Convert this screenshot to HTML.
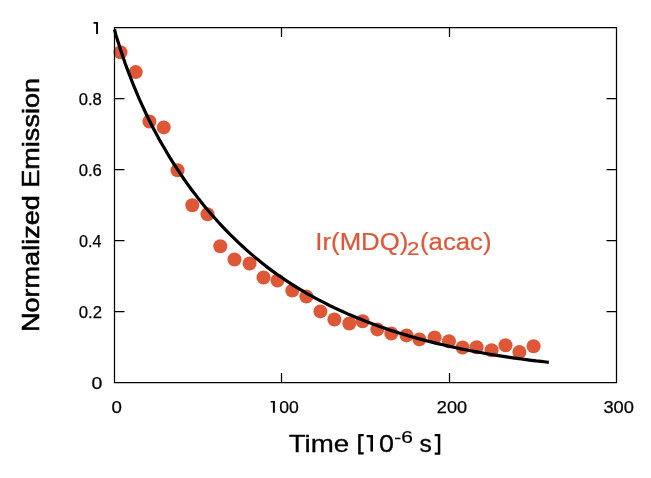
<!DOCTYPE html><html><head><meta charset="utf-8"><style>html,body{margin:0;padding:0;background:#fff;}svg{display:block;will-change:transform;}text{font-family:"Liberation Sans",sans-serif;}</style></head><body>
<svg width="651" height="478" viewBox="0 0 651 478">
<rect x="0" y="0" width="651" height="478" fill="#fff"/>
<g fill="#de5737"><circle cx="120.5" cy="52.3" r="7"/><circle cx="135.7" cy="72.1" r="7"/><circle cx="149.4" cy="121.5" r="7"/><circle cx="163.7" cy="127.4" r="7"/><circle cx="177.5" cy="170.3" r="7"/><circle cx="192.3" cy="205.3" r="7"/><circle cx="207.5" cy="214.3" r="7"/><circle cx="220.3" cy="246.3" r="7"/><circle cx="234.5" cy="259.5" r="7"/><circle cx="249.6" cy="263.5" r="7"/><circle cx="263.5" cy="277.5" r="7"/><circle cx="277.5" cy="280.5" r="7"/><circle cx="292.3" cy="290.6" r="7"/><circle cx="306.4" cy="296.5" r="7"/><circle cx="320.4" cy="311.4" r="7"/><circle cx="334.4" cy="319.5" r="7"/><circle cx="349.3" cy="323.5" r="7"/><circle cx="362.6" cy="321.2" r="7"/><circle cx="377.3" cy="329.4" r="7"/><circle cx="391.3" cy="333.5" r="7"/><circle cx="406.5" cy="335.4" r="7"/><circle cx="419.4" cy="339.4" r="7"/><circle cx="434.6" cy="337.4" r="7"/><circle cx="448.9" cy="341.3" r="7"/><circle cx="462.6" cy="347.5" r="7"/><circle cx="476.6" cy="347.2" r="7"/><circle cx="491.6" cy="350.3" r="7"/><circle cx="505.5" cy="345.3" r="7"/><circle cx="519.4" cy="352.0" r="7"/><circle cx="533.6" cy="346.3" r="7"/></g>
<path d="M114.5 27.5H616.5V382.5H114.5ZM281.5 382.5V373.0M281.5 27.5V37.0M449.5 382.5V373.0M449.5 27.5V37.0M114.5 311.5H124.5M616.5 311.5H606.5M114.5 240.5H124.5M616.5 240.5H606.5M114.5 169.5H124.5M616.5 169.5H606.5M114.5 98.5H124.5M616.5 98.5H606.5" fill="none" stroke="#000" stroke-width="1.25"/>
<path d="M114.5 29.5 L115.9 34.9 L117.4 39.7 L118.9 44.5 L120.4 49.3 L122.0 54.0 L123.6 58.7 L125.2 63.5 L126.9 68.2 L128.7 72.8 L130.5 77.5 L132.3 82.2 L134.2 86.8 L136.1 91.4 L138.0 96.0 L140.0 100.6 L142.1 105.2 L144.2 109.7 L146.3 114.2 L148.5 118.7 L150.7 123.2 L153.0 127.7 L155.3 132.1 L157.7 136.5 L160.1 140.9 L162.6 145.2 L165.1 149.5 L167.6 153.8 L170.2 158.1 L172.9 162.4 L175.6 166.6 L178.3 170.7 L181.1 174.9 L183.9 179.0 L186.8 183.1 L189.8 187.2 L192.7 191.2 L195.8 195.1 L198.8 199.1 L201.9 203.0 L205.1 206.9 L208.3 210.7 L211.6 214.5 L214.9 218.3 L218.2 222.0 L221.6 225.6 L225.1 229.3 L228.6 232.9 L232.1 236.4 L235.7 239.9 L239.3 243.3 L243.0 246.7 L246.7 250.1 L250.4 253.4 L254.2 256.6 L258.1 259.8 L262.0 263.0 L265.9 266.1 L269.9 269.1 L273.9 272.1 L277.9 275.0 L282.0 277.8 L286.2 280.6 L290.4 283.4 L294.6 286.1 L298.9 288.7 L303.1 291.2 L307.5 293.8 L311.8 296.2 L316.2 298.6 L320.6 300.9 L325.1 303.2 L329.5 305.5 L334.0 307.6 L338.6 309.8 L343.1 311.8 L347.7 313.9 L352.3 315.8 L356.9 317.8 L361.5 319.6 L366.2 321.5 L370.9 323.2 L375.6 325.0 L380.3 326.7 L385.0 328.3 L389.7 329.9 L394.5 331.5 L399.2 333.0 L404.0 334.4 L408.8 335.9 L413.6 337.3 L418.4 338.6 L423.3 339.9 L428.1 341.2 L432.9 342.4 L437.8 343.6 L442.7 344.8 L447.5 345.9 L452.4 347.0 L457.3 348.0 L462.2 349.1 L467.1 350.0 L472.0 351.0 L476.9 351.9 L481.8 352.8 L486.8 353.7 L491.7 354.5 L496.6 355.3 L501.6 356.1 L506.5 356.9 L511.4 357.6 L516.4 358.3 L521.4 359.0 L526.3 359.6 L531.3 360.3 L536.2 360.9 L541.2 361.4 L546.2 362.0 L548.8 362.3" fill="none" stroke="#000" stroke-width="3.2" stroke-linejoin="round"/>
<path d="M96.1 22H98V34H96.1ZM93.5 22H97V23.7H93.5ZM272.9 400.9H274.9V412.7H272.9ZM270.7 400.9H274.4V402.6H270.7ZM370.4 435H373V451.6H370.4ZM366.6 435H372.5V437.2H366.6ZM358.2 433.9H360.7V454.6H358.2ZM358.2 433.9H363.7V436.2H358.2ZM358.2 452.3H363.7V454.6H358.2ZM437.8 434H440.3V454.7H437.8ZM434.7 434H440.3V436.3H434.7ZM434.7 452.4H440.3V454.7H434.7Z" fill="#000"/>
<text x="111.50" y="412.7" font-size="17" textLength="10.41" lengthAdjust="spacingAndGlyphs" fill="#000" stroke="#000" stroke-width="0.25">0</text>
<text x="279.18" y="412.7" font-size="17" textLength="19.57" lengthAdjust="spacingAndGlyphs" fill="#000" stroke="#000" stroke-width="0.25">00</text>
<text x="436.83" y="412.7" font-size="17" textLength="30.26" lengthAdjust="spacingAndGlyphs" fill="#000" stroke="#000" stroke-width="0.25">200</text>
<text x="603.43" y="412.7" font-size="17" textLength="30.54" lengthAdjust="spacingAndGlyphs" fill="#000" stroke="#000" stroke-width="0.25">300</text>
<text x="78.78" y="104.5" font-size="17" textLength="23.06" lengthAdjust="spacingAndGlyphs" fill="#000" stroke="#000" stroke-width="0.25">0.8</text>
<text x="78.71" y="175.5" font-size="17" textLength="23.20" lengthAdjust="spacingAndGlyphs" fill="#000" stroke="#000" stroke-width="0.25">0.6</text>
<text x="79.08" y="246.5" font-size="17" textLength="22.50" lengthAdjust="spacingAndGlyphs" fill="#000" stroke="#000" stroke-width="0.25">0.4</text>
<text x="78.72" y="317.5" font-size="17" textLength="23.29" lengthAdjust="spacingAndGlyphs" fill="#000" stroke="#000" stroke-width="0.25">0.2</text>
<text x="91.64" y="388.5" font-size="17" textLength="10.84" lengthAdjust="spacingAndGlyphs" fill="#000" stroke="#000" stroke-width="0.25">0</text>
<text x="288.69" y="452.0" font-size="24" textLength="60.61" lengthAdjust="spacingAndGlyphs" fill="#000" stroke="#000" stroke-width="0.3">Time</text>
<text x="379.08" y="452.0" font-size="24" textLength="14.98" lengthAdjust="spacingAndGlyphs" fill="#000" stroke="#000" stroke-width="0.3">0</text>
<text x="394.36" y="442.6" font-size="17" textLength="18.71" lengthAdjust="spacingAndGlyphs" fill="#000" stroke="#000" stroke-width="0.2">-6</text>
<text x="419.52" y="452.0" font-size="24" textLength="12.28" lengthAdjust="spacingAndGlyphs" fill="#000" stroke="#000" stroke-width="0.3">s</text>
<text x="315.30" y="249.6" font-size="23" textLength="93.09" lengthAdjust="spacingAndGlyphs" fill="#de5737" stroke="#de5737" stroke-width="0.2">Ir(MDQ)</text>
<text x="406.93" y="255.0" font-size="17.5" textLength="12.31" lengthAdjust="spacingAndGlyphs" fill="#de5737" stroke="#de5737" stroke-width="0.2">2</text>
<text x="420.01" y="249.6" font-size="23" textLength="71.53" lengthAdjust="spacingAndGlyphs" fill="#de5737" stroke="#de5737" stroke-width="0.2">(acac)</text>
<text transform="translate(39 205.00) rotate(-90)" font-size="24" text-anchor="middle" stroke="#000" stroke-width="0.55" textLength="254.00" lengthAdjust="spacingAndGlyphs">Normalized Emission</text>
</svg></body></html>
